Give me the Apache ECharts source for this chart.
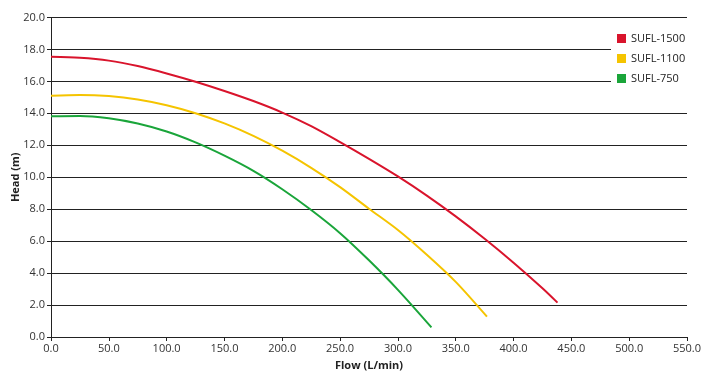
<!DOCTYPE html>
<html>
<head>
<meta charset="utf-8">
<script src="https://cdn.jsdelivr.net/npm/echarts@6/dist/echarts.min.js"></script>
<style>html,body{margin:0;padding:0;background:#fff}#c{width:716px;height:380px}</style>
</head>
<body>
<div id="c"></div>
<script>
const seriesNames = ['SUFL-1500', 'SUFL-1100', 'SUFL-750'];
const flow1500 = [0, 25, 50, 75, 100, 125, 150, 175, 200, 225, 250, 275, 300, 325, 350, 375, 400, 425, 438];
const head1500 = [17.55, 17.48, 17.3, 16.96, 16.5, 15.98, 15.4, 14.77, 14.05, 13.2, 12.2, 11.15, 10.05, 8.85, 7.55, 6.15, 4.65, 3.05, 2.15];
const flow1100 = [0, 25, 50, 75, 100, 125, 150, 175, 200, 225, 250, 275, 300, 325, 350, 377];
const head1100 = [15.1, 15.15, 15.08, 14.87, 14.51, 14.01, 13.37, 12.59, 11.66, 10.59, 9.38, 8.03, 6.7, 5.15, 3.45, 1.27];
const flow750 = [0, 25, 50, 75, 100, 125, 150, 175, 200, 225, 250, 275, 300, 329];
const head750 = [13.82, 13.84, 13.69, 13.36, 12.86, 12.18, 11.35, 10.4, 9.25, 7.95, 6.5, 4.8, 2.95, 0.6];
const colors = ['#d9142c', '#f5c400', '#1aa53a'];

const pairs = (xs, ys) => xs.map((x, i) => [x, ys[i]]);
const allData = [pairs(flow1500, head1500), pairs(flow1100, head1100), pairs(flow750, head750)];

const chart = echarts.init(document.getElementById('c'));
const font = '"Open Sans", "Noto Sans", sans-serif';
chart.setOption({
  animation: false,
  textStyle: { fontFamily: font },
  grid: { left: 51, right: 29, top: 17.5, bottom: 43, containLabel: false, outerBoundsMode: 'none' },
  legend: {
    orient: 'vertical',
    left: 611, top: 29,
    padding: [4, 30, 8, 6],
    backgroundColor: '#fff',
    itemWidth: 9, itemHeight: 9, itemGap: 9,
    icon: 'rect',
    textStyle: { fontSize: 11, color: '#222', fontFamily: font },
    data: seriesNames
  },
  xAxis: {
    type: 'value', min: 0, max: 550, interval: 50,
    name: 'Flow (L/min)', nameLocation: 'middle', nameGap: 23, nameMoveOverlap: false,
    nameTextStyle: { fontWeight: 'bold', fontSize: 11, color: '#222' },
    axisLine: { lineStyle: { color: '#222' } },
    axisTick: { show: true, lineStyle: { color: '#222' }, length: 4 },
    axisLabel: { fontSize: 11, color: '#333', formatter: v => v.toFixed(1), margin: 6 },
    splitLine: { show: false }
  },
  yAxis: {
    type: 'value', min: 0, max: 20, interval: 2,
    name: 'Head (m)', nameLocation: 'middle', nameGap: 30, nameMoveOverlap: false,
    nameTextStyle: { fontWeight: 'bold', fontSize: 11, color: '#222' },
    axisLine: { show: true, lineStyle: { color: '#222' } },
    axisTick: { show: true, lineStyle: { color: '#222' }, length: 4 },
    axisLabel: { fontSize: 11, color: '#333', formatter: v => v.toFixed(1), margin: 6 },
    splitLine: { show: true, lineStyle: { color: '#222', width: 1 } }
  },
  series: seriesNames.map((n, i) => ({
    name: n, type: 'line', data: allData[i], smooth: 0.3,
    showSymbol: false, color: colors[i],
    lineStyle: { width: 2, color: colors[i] }, z: 3
  }))
});
</script>
</body>
</html>
